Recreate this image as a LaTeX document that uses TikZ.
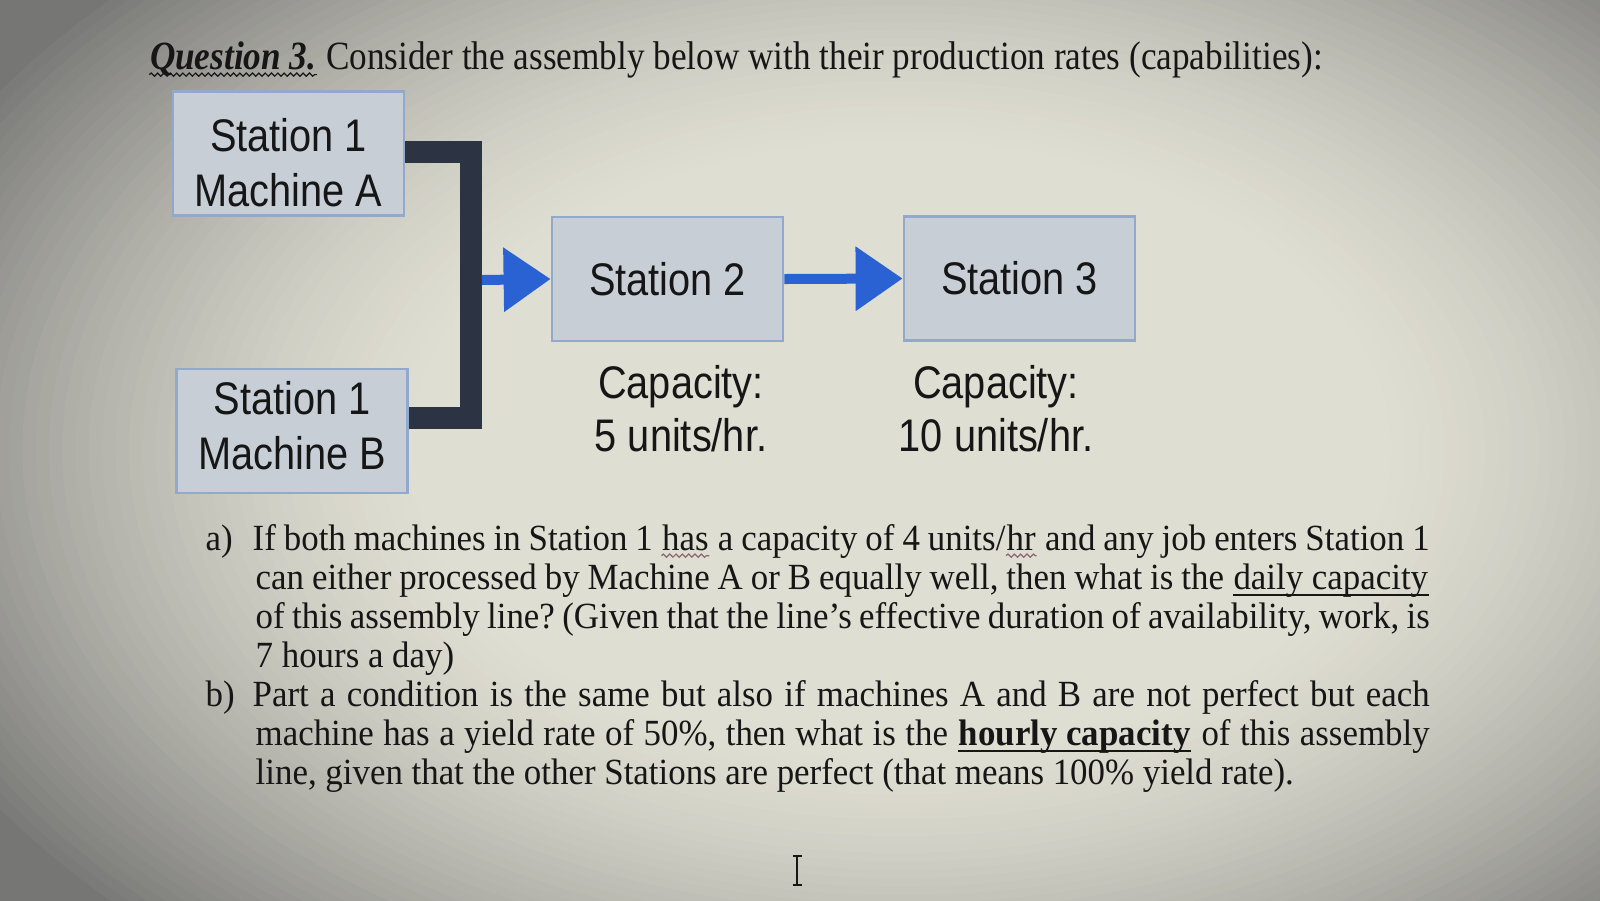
\documentclass[tikz,border=0pt]{standalone}
\usepackage{fontspec}
\usepackage{tikz}
\usetikzlibrary{arrows.meta,calc,positioning,decorations.pathmorphing}

\newfontfamily\titleface{Liberation Serif}[FakeStretch=0.878]
\newfontfamily\serifface{Liberation Serif}[FakeStretch=0.945]
\newfontfamily\sansface{Liberation Sans}[FakeStretch=0.87]
\newcommand{\titletext}{\titleface\fontsize{11.4pt}{13pt}\selectfont}
\newcommand{\parttext}{\serifface\fontsize{10.5pt}{11.1pt}\selectfont}
\newcommand{\boxtext}{\sansface\fontsize{13pt}{15.6pt}\selectfont}
\newcommand{\captext}{\sansface\fontsize{13pt}{15.1pt}\selectfont}
% wavy underline as the spell checker draws it
\newcommand{\spellmark}[2]{\smash{\tikz[baseline=(w.base)]{\node[inner sep=0pt, anchor=base west, text=ink] (w) at (0,0) {#2};
	\draw[#1, line width=0.35pt, decorate, decoration={snake, amplitude=0.45pt, segment length=1.8pt}]
		([yshift=-1.6pt]w.base west) -- ([yshift=-1.6pt]w.base east);}}}
% plain underline close to the baseline
\newcommand{\ruled}[1]{\smash{\tikz[baseline=(w.base)]{\node[inner sep=0pt, anchor=base west, text=ink] (w) at (0,0) {#1};
	\draw[ink, line width=0.5pt] ([yshift=-1.7pt]w.base west) -- ([yshift=-1.7pt]w.base east);}}}

\definecolor{ink}{HTML}{161616}
\definecolor{squig}{HTML}{8A6A70}
\definecolor{boxfill}{HTML}{C7CED6}
\definecolor{boxline}{HTML}{93A9CB}
\definecolor{barcol}{HTML}{2C3444}
\definecolor{flowblue}{HTML}{2A62D4}
\definecolor{glowlit}{HTML}{DFDED2}
\definecolor{glowdim}{HTML}{767675}

\tikzset{
  stationbox/.style={draw=boxline, fill=boxfill, line width=0.8pt, inner sep=0pt,
    minimum width=2.31cm, minimum height=1.24cm},
  boxlabel/.style={align=center, inner sep=0pt, text=ink, font=\boxtext},
  caplabel/.style={align=center, inner sep=0pt, text=ink, font=\captext},
  joinbar/.style={draw=barcol, line width=0.22cm, line join=miter, line cap=butt},
  flowarrow/.style={draw=flowblue, line width=0.1cm,
    -{Triangle[length=0.47cm,width=0.62cm]}, shorten >=0pt}
}

\begin{document}
\begin{tikzpicture}
	% photographed screen, lighter towards the middle
	\useasboundingbox (0,0) rectangle (16,-9);
	\begin{scope}
		\clip (-0.05,0.05) rectangle (16.05,-9.05);
		\fill[glowdim] (-0.05,0.05) rectangle (16.05,-9.05);
		\foreach \k in {0,...,44}{
			\pgfmathsetmacro{\f}{1.12-\k*0.014}
			\pgfmathsetmacro{\lit}{100*(1-((\f-0.5)/0.64)^1.5)}
			\fill[glowlit!\lit!glowdim] (9,-4.5) ellipse ({\f*9.5} and {\f*6});
		}
		\fill[glowlit] (9,-4.5) ellipse ({0.5*9.5} and {0.5*6});
	\end{scope}

	\node[anchor=base west, inner sep=0pt, text=ink, font=\titletext] (title) at (1.48,-0.69)
		{\spellmark{ink}{\textbf{\textit{Question 3.}}} Consider the assembly below with their production rates (capabilities):};

	\node[stationbox] (machA) at (2.885,-1.535) {};
	\node[stationbox] (machB) at (2.92,-4.31) {};
	\node[stationbox] (st2) at (6.675,-2.79) {};
	\node[stationbox] (st3) at (10.195,-2.785) {};
	\node[boxlabel] (machAtext) at ([yshift=-0.09cm]machA) {Station 1\\Machine A};
	\node[boxlabel] (machBtext) at ([yshift=0.05cm]machB) {Station 1\\Machine B};
	\node[boxlabel] (st2text) at (st2) {Station 2};
	\node[boxlabel] (st3text) at (st3) {Station 3};

	\node[caplabel] (cap2) at (6.81,-4.09) {Capacity:\\5 units/hr.};
	\node[caplabel] (cap3) at (9.96,-4.09) {Capacity:\\10 units/hr.};

	% merge of the two machines
	\coordinate (merge) at (4.71,-2.80);
	\draw[joinbar] ([yshift=0.02cm]machA.east) -| (merge) |- ([yshift=0.13cm]machB.east);
	\draw[flowarrow] ([xshift=0.11cm]merge) -- (st2.west);
	\draw[flowarrow] (st2.east) -- (st3.west);

	\node[anchor=base west, inner sep=0pt, text=ink, font=\parttext] (parts) at (2.05,-5.50)
		{\parbox[t]{12.24cm}{\parttext\frenchspacing
		\hangindent=0.5cm\hangafter=1\noindent\makebox[0.47cm][l]{a)}If both machines in Station 1 \spellmark{squig}{has} a capacity of 4 units/\spellmark{squig}{hr} and any job enters Station 1\linebreak
		can either processed by Machine A or B equally well, then what is the \ruled{daily capacity}\linebreak
		of this assembly line? (Given that the line’s effective duration of availability, work, is\linebreak
		7 hours a day)\par
		\hangindent=0.5cm\hangafter=1\noindent\makebox[0.47cm][l]{b)}Part a condition is the same but also if machines A and B are not perfect but each\linebreak
		machine has a yield rate of 50\%, then what is the \ruled{\textbf{hourly capacity}} of this assembly\linebreak
		line, given that the other Stations are perfect (that means 100\% yield rate).}};

	% text cursor
	\draw[ink, line width=0.022cm] (7.97,-8.56) -- (7.97,-8.85)
		(7.925,-8.56) -- (8.015,-8.56) (7.925,-8.85) -- (8.015,-8.85);
\end{tikzpicture}
\end{document}
